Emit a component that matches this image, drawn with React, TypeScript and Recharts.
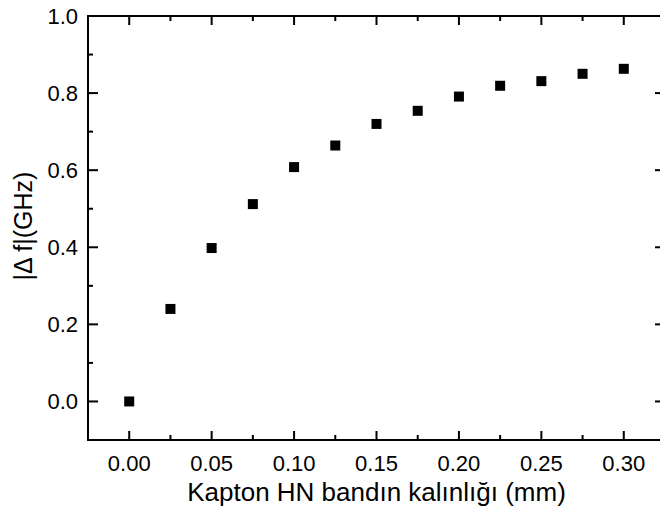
import { Label, ReferenceLine, Scatter, ScatterChart, XAxis, YAxis } from "recharts"

// thickness of the Kapton HN tape (mm) and the measured frequency shift (GHz)
const thickness = [0, 0.025, 0.05, 0.075, 0.1, 0.125, 0.15, 0.175, 0.2, 0.225, 0.25, 0.275, 0.3]
const deltaF = [0.0, 0.24, 0.398, 0.512, 0.608, 0.664, 0.72, 0.754, 0.791, 0.819, 0.831, 0.85, 0.863]

// tick positions (majors get labels, the rest are minor ticks)
const xTicks = [0, 0.025, 0.05, 0.075, 0.1, 0.125, 0.15, 0.175, 0.2, 0.225, 0.25, 0.275, 0.3]
const yTicks = [0, 0.1, 0.2, 0.3, 0.4, 0.5, 0.6, 0.7, 0.8, 0.9, 1.0]
const xDomain = [-0.025, 0.325]
const yDomain = [-0.1, 1.0]

const data = thickness.map((t, i) => ({ t, df: deltaF[i] }))

const font = "'Liberation Sans', Arial, sans-serif"
const isMajorX = (v: number) => Math.round(v * 1000) % 50 === 0
const isMajorY = (v: number) => Math.round(v * 10) % 2 === 0

const BottomTick = ({ x, y, payload }: any) => {
  const major = isMajorX(payload.value)
  return (
    <g>
      <line x1={x} x2={x} y1={y} y2={y - (major ? 9 : 5)} stroke="#000" strokeWidth={2} />
      {major && (
        <text x={x} y={y + 31} textAnchor="middle" fontSize={22} fontFamily={font} fill="#000">
          {payload.value.toFixed(2)}
        </text>
      )}
    </g>
  )
}

const LeftTick = ({ x, y, payload }: any) => {
  const major = isMajorY(payload.value)
  return (
    <g>
      <line x1={x} x2={x + (major ? 10 : 5)} y1={y} y2={y} stroke="#000" strokeWidth={2} />
      {major && (
        <text x={x - 10} y={y} dy="0.36em" textAnchor="end" fontSize={22} fontFamily={font} fill="#000">
          {payload.value.toFixed(1)}
        </text>
      )}
    </g>
  )
}

// mirrored ticks on the top and right edges, drawn from a reference line's end points
const topTick = (len: number) => (p: any) => {
  const top = Math.min(p.y1, p.y2)
  return <line x1={p.x1} x2={p.x1} y1={top} y2={top + len} stroke="#000" strokeWidth={2} />
}
const rightTick = (len: number) => (p: any) => {
  const right = Math.max(p.x1, p.x2)
  return <line x1={right} x2={right - len} y1={p.y1} y2={p.y1} stroke="#000" strokeWidth={2} />
}

const YTitle = (props: any) => {
  const vb = props.viewBox
  const cx = vb.x + 32
  const cy = vb.y + vb.height / 2 - 2
  return (
    <text x={cx} y={cy} transform={`rotate(-90, ${cx}, ${cy})`} textAnchor="middle" fontSize={25} fontFamily={font} fill="#000">
      |Δ f|(GHz)
    </text>
  )
}

const Square = ({ cx, cy }: any) => <rect x={cx - 5} y={cy - 5} width={10} height={10} fill="#000" />

const axisLine = { stroke: "#000", strokeWidth: 2, strokeLinecap: "square" as const }

export default function App() {
  return (
    <div style={{ position: "fixed", top: 0, left: 0, width: 660, height: 512, overflow: "hidden", background: "#fff", fontFamily: font }}>
      <ScatterChart width={680} height={512} margin={{ top: 16, right: 15, bottom: 0, left: 0 }}>
        <XAxis
          type="number"
          dataKey="t"
          domain={xDomain}
          ticks={xTicks}
          interval={0}
          height={72}
          tickSize={0}
          tickMargin={0}
          tickLine={false}
          axisLine={axisLine}
          tick={<BottomTick />}
        >
          <Label value="Kapton HN bandın kalınlığı (mm)" position="insideBottom" offset={11} fontSize={26} fontFamily={font} fill="#000" />
        </XAxis>
        <YAxis
          type="number"
          dataKey="df"
          domain={yDomain}
          ticks={yTicks}
          interval={0}
          width={88}
          tickSize={0}
          tickMargin={0}
          tickLine={false}
          axisLine={axisLine}
          tick={<LeftTick />}
        >
          <Label content={<YTitle />} />
        </YAxis>
        {/* box: top and right edges */}
        <ReferenceLine y={yDomain[1]} stroke="#000" strokeWidth={2} strokeLinecap="square" />
        <ReferenceLine x={xDomain[1]} stroke="#000" strokeWidth={2} strokeLinecap="square" />
        {xTicks.map((v) => (
          <ReferenceLine key={`tx${v}`} x={v} shape={topTick(isMajorX(v) ? 9 : 5)} />
        ))}
        {yTicks.map((v) => (
          <ReferenceLine key={`ty${v}`} y={v} shape={rightTick(isMajorY(v) ? 10 : 5)} />
        ))}
        <Scatter data={data} shape={<Square />} isAnimationActive={false} />
      </ScatterChart>
    </div>
  )
}
